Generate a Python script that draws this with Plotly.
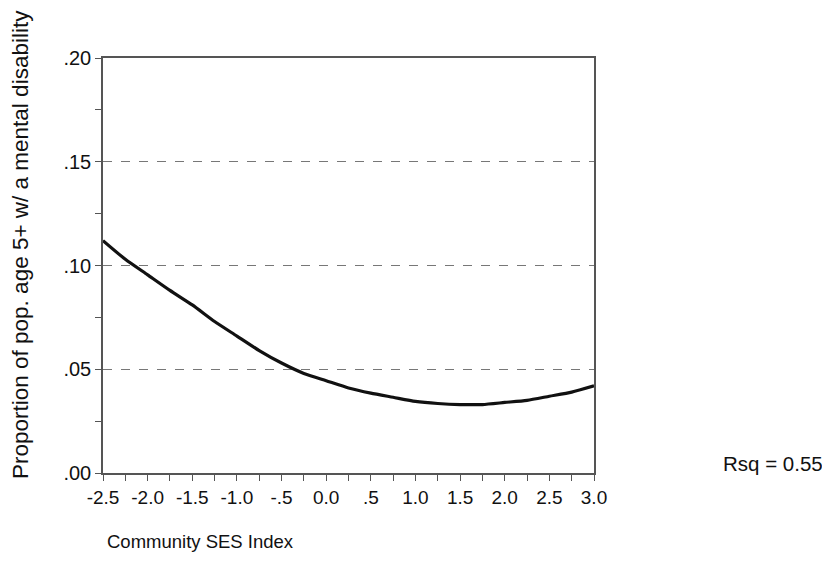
import plotly.graph_objects as go

ses_index = [-2.5, -2.25, -2.0, -1.75, -1.5, -1.25, -1.0, -0.75, -0.5, -0.25, 0.0,
             0.25, 0.5, 0.75, 1.0, 1.25, 1.5, 1.75, 2.0, 2.25, 2.5, 2.75, 3.0]
proportion = [0.112, 0.103, 0.0955, 0.088, 0.081, 0.073, 0.066, 0.059, 0.053, 0.048, 0.0445,
              0.041, 0.0385, 0.0365, 0.0345, 0.0335, 0.033, 0.033, 0.034, 0.035, 0.037, 0.039, 0.042]

x_tickvals = [-2.5, -2.0, -1.5, -1.0, -0.5, 0.0, 0.5, 1.0, 1.5, 2.0, 2.5, 3.0]
x_ticktext = ["-2.5", "-2.0", "-1.5", "-1.0", "-.5", "0.0", ".5", "1.0", "1.5", "2.0", "2.5", "3.0"]
y_tickvals = [0.0, 0.05, 0.10, 0.15, 0.20]
y_ticktext = [".00", ".05", ".10", ".15", ".20"]

FONT = "Liberation Sans, Arial, sans-serif"

# page has an 8px body margin; figure sized so no scrollbars, plot box at page 103..594 x 58..473
fig = go.Figure()
fig.add_trace(go.Scatter(x=ses_index, y=proportion, mode="lines",
                         line=dict(color="#111111", width=3.2, shape="spline", smoothing=0.6),
                         showlegend=False, hoverinfo="skip"))

fig.update_layout(
    width=814, height=555,
    margin=dict(l=95, r=228, t=50, b=90),
    paper_bgcolor="white", plot_bgcolor="white",
    font=dict(family=FONT, size=18, color="#111111"),
)
fig.update_xaxes(
    range=[-2.5, 3.0], tickvals=x_tickvals, ticktext=x_ticktext,
    showline=True, linecolor="#555555", linewidth=1.5, mirror=True,
    ticks="outside", ticklen=6, tickcolor="#555555", tickwidth=1,
    minor=dict(dtick=0.25, tick0=-2.5, ticks="outside", ticklen=6, tickcolor="#555555", showgrid=False),
    showgrid=False, zeroline=False, tickfont=dict(size=19),
)
fig.update_yaxes(
    range=[0, 0.20], tickvals=y_tickvals, ticktext=y_ticktext,
    showline=True, linecolor="#555555", linewidth=1.5, mirror=True,
    ticks="outside", ticklen=6, tickcolor="#555555", tickwidth=1,
    minor=dict(dtick=0.025, tick0=0, ticks="outside", ticklen=6, tickcolor="#555555", showgrid=False),
    showgrid=True, gridcolor="#777777", griddash="dash", gridwidth=1,
    zeroline=False, tickfont=dict(size=20),
)

fig.add_annotation(text="Community SES Index", xref="paper", yref="paper",
                   x=(105 - 103) / 491, y=-(541 - 473) / 415, xanchor="left", yanchor="middle",
                   showarrow=False, font=dict(size=18.5))
fig.add_annotation(text="Proportion of pop. age 5+ w/ a mental disability", xref="paper", yref="paper",
                   x=-(103 - 20) / 491, y=(473 - 245) / 415, xanchor="center", yanchor="middle",
                   textangle=-90, showarrow=False, font=dict(size=22.5))
fig.add_annotation(text="Rsq = 0.55", xref="paper", yref="paper",
                   x=(721 - 103) / 491, y=(473 - 463) / 415, xanchor="left", yanchor="middle",
                   showarrow=False, font=dict(size=20.5))

fig.write_html("out.html")
